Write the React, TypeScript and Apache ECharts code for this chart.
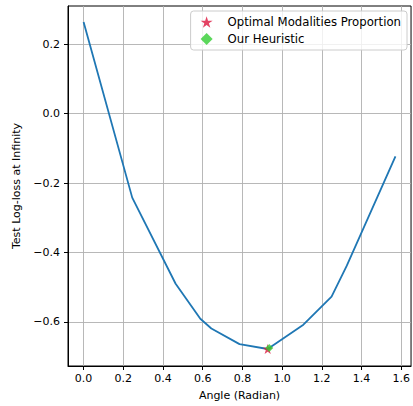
import React, { useEffect, useRef } from "react";
import * as echarts from "echarts";

// Angles (radian) and test log-loss values
const angles: number[] = [0, 0.245, 0.4636, 0.588, 0.6435, 0.7854, 0.9273, 1.1071, 1.249, 1.3258, 1.5708];
const logLoss: number[] = [0.264, -0.242, -0.49, -0.591, -0.619, -0.664, -0.678, -0.608, -0.527, -0.438, -0.123];

const optimalPoint: number[] = [0.9273, -0.678];
const heuristicPoint: number[] = [0.935, -0.675];

const xTicks: number[] = [0, 0.2, 0.4, 0.6, 0.8, 1.0, 1.2, 1.4, 1.6];
const yTicks: number[] = [-0.6, -0.4, -0.2, 0.0, 0.2];

const seriesNames: string[] = ["Optimal Modalities Proportion", "Our Heuristic"];

const FONT = "DejaVu Sans";
const STAR =
  "path://M12,0 L14.81,8.65 L23.91,8.65 L16.55,14 L19.36,22.65 L12,17.3 L4.64,22.65 L7.45,14 L0.09,8.65 L9.19,8.65 Z";

const fmt = (v: number) => v.toFixed(1).replace("-", "\u2212");

export default function App() {
  const ref = useRef<HTMLDivElement>(null);
  useEffect(() => {
    if (!ref.current) return;
    const chart = echarts.init(ref.current, undefined, { renderer: "svg" });
    const lineData = angles.map((a, i) => [a, logLoss[i]]);
    const textCommon = { color: "#000", fontSize: 11, fontFamily: FONT };
    chart.setOption({
      animation: false,
      backgroundColor: "#fff",
      grid: {
        left: 68,
        top: 6,
        width: 344,
        height: 361,
        show: true,
        borderColor: "#000",
        borderWidth: 1,
        backgroundColor: "transparent",
      },
      legend: {
        orient: "vertical",
        right: 6,
        top: 11,
        padding: [5, 6, 5, 10],
        itemWidth: 12,
        itemHeight: 12,
        itemGap: 5,
        backgroundColor: "rgba(255,255,255,0.8)",
        borderColor: "#cccccc",
        borderWidth: 1,
        borderRadius: 3,
        textStyle: { color: "#000", fontSize: 11.7, fontFamily: FONT, padding: [0, 0, 0, 10] },
        data: [
          { name: seriesNames[0], icon: STAR },
          { name: seriesNames[1], icon: "diamond" },
        ],
      },
      xAxis: {
        type: "value",
        min: -0.0785,
        max: 1.6493,
        name: "Angle (Radian)",
        nameLocation: "middle",
        nameGap: 24,
        nameTextStyle: textCommon,
        axisLine: { show: true, onZero: false, lineStyle: { color: "#000", width: 1 } },
        axisTick: { show: true, length: 4, customValues: xTicks, lineStyle: { color: "#000", width: 1 } },
        axisLabel: { customValues: xTicks, formatter: fmt, margin: 7, ...textCommon },
        splitLine: { show: true, lineStyle: { color: "#b0b0b0", width: 0.9 } },
      },
      yAxis: {
        type: "value",
        min: -0.727,
        max: 0.31,
        name: "Test Log-loss at Infinity",
        nameLocation: "middle",
        nameGap: 38,
        nameTextStyle: textCommon,
        axisLine: { show: true, onZero: false, lineStyle: { color: "#000", width: 1 } },
        axisTick: { show: true, length: 4, customValues: yTicks, lineStyle: { color: "#000", width: 1 } },
        axisLabel: { customValues: yTicks, formatter: fmt, margin: 8, ...textCommon },
        splitLine: { show: true, lineStyle: { color: "#b0b0b0", width: 0.9 } },
      },
      series: [
        {
          type: "line",
          data: lineData,
          symbol: "none",
          lineStyle: { color: "#1f77b4", width: 1.8 },
          z: 2,
        },
        {
          type: "scatter",
          name: seriesNames[0],
          data: [optimalPoint],
          symbol: STAR,
          symbolSize: 10,
          itemStyle: { color: "#dc143c" },
          z: 3,
        },
        {
          type: "scatter",
          name: seriesNames[1],
          data: [heuristicPoint],
          symbol: "diamond",
          symbolSize: 8,
          itemStyle: { color: "#32cd32" },
          z: 4,
        },
      ],
    });
    return () => chart.dispose();
  }, []);
  return (
    <div
      ref={ref}
      style={{ position: "absolute", left: 0, top: 0, width: 413, height: 406 }}
    />
  );
}
